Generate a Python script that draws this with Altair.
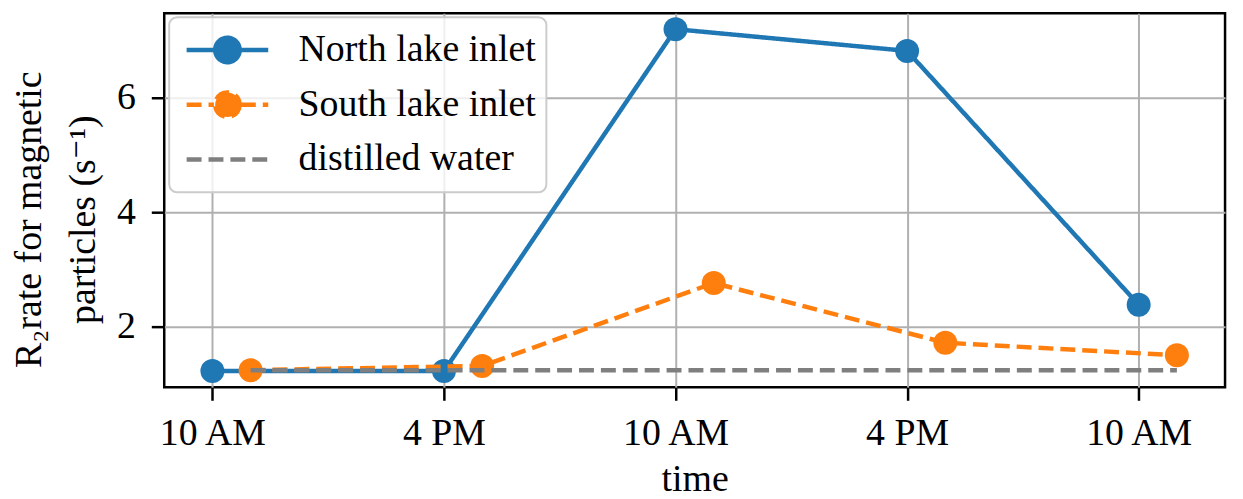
import json
import altair as alt
import pandas as pd

# ---- data ----
series_names = ["North lake inlet", "South lake inlet", "distilled water"]
series_colors = ["#1f77b4", "#ff7f0e", "#7f7f7f"]
tick_positions = [0, 1, 2, 3, 4]
tick_labels = ["10 AM", "4 PM", "10 AM", "4 PM", "10 AM"]
y_ticks = [2, 4, 6]

north_x = [0, 1, 2, 3, 4]
north_y = [1.22, 1.22, 7.2, 6.82, 2.38]
south_x = [0.165, 1.165, 2.165, 3.165, 4.165]
south_y = [1.235, 1.31, 2.76, 1.715, 1.495]
water_x = [0.165, 4.165]
water_y = [1.235, 1.235]

rows = []
for name, xs, ys in zip(series_names, [north_x, south_x, water_x], [north_y, south_y, water_y]):
    for xv, yv in zip(xs, ys):
        rows.append({"series": name, "x": xv, "y": yv})
df = pd.DataFrame(rows)

FONT = "Liberation Serif, Times New Roman, DejaVu Serif, serif"
W, H = 1066, 376
DASH = [15, 7]
SOLID = [1, 0]

label_expr = json.dumps(tick_labels) + "[datum.value]"

x_enc = alt.X(
    "x:Q",
    scale=alt.Scale(domain=[-0.208, 4.373], nice=False, zero=False),
    axis=alt.Axis(
        values=tick_positions,
        labelExpr=label_expr,
        title="time",
        titleX=W / 2,
        titleY=104,
        titleAlign="center",
        titleBaseline="alphabetic",
        labelPadding=14,
    ),
)
y_enc = alt.Y(
    "y:Q",
    scale=alt.Scale(domain=[0.935, 7.48], nice=False, zero=False),
    axis=alt.Axis(
        values=y_ticks,
        title=["R\u2082rate for magnetic", "particles (s\u207b\u00b9)"],
        titleX=-124,
        titleY=207,
        titleAngle=270,
        titleAlign="center",
        titleBaseline="alphabetic",
        titleLineHeight=54,
        labelPadding=16,
    ),
)

# legend symbols (unit coordinates, scaled by the legend symbol size)
circle_path = ("M -1 0 L -0.33 0 M 0.33 0 L 1 0 "
               "M 0.3 0 A 0.3 0.3 0 1 1 -0.3 0 A 0.3 0.3 0 1 1 0.3 0 Z")
line_path = "M -1 0 L 1 0"

legend = alt.Legend(
    title=None,
    orient="none",
    legendX=5,
    legendY=4,
    padding=10,
    clipHeight=46,
    rowPadding=9,
    symbolSize=6724,
    symbolOffset=5,
    symbolStrokeWidth=4.5,
    symbolOpacity=1,
    labelOffset=28,
    labelLimit=600,
    labelFont=FONT,
    labelFontSize=38,
    labelColor="black",
    fillColor="rgba(255,255,255,0.8)",
    strokeColor="#cccccc",
    cornerRadius=8,
)

color_enc = alt.Color(
    "series:N",
    scale=alt.Scale(domain=series_names, range=series_colors),
    legend=legend,
)
dash_enc = alt.StrokeDash(
    "series:N",
    scale=alt.Scale(domain=series_names, range=[SOLID, DASH, DASH]),
    legend=legend,
)
shape_enc = alt.Shape(
    "series:N",
    scale=alt.Scale(domain=series_names, range=[circle_path, circle_path, line_path]),
    legend=legend,
)

base = alt.Chart(df).encode(x=x_enc, y=y_enc, color=color_enc)


def only(name):
    return base.transform_filter(alt.datum.series == name)


LW = 4.5
north_line = only(series_names[0]).mark_line(strokeWidth=LW).encode(strokeDash=dash_enc)
north_pts = only(series_names[0]).mark_point(filled=True, size=580, opacity=1)
south_line = only(series_names[1]).mark_line(strokeWidth=LW).encode(strokeDash=dash_enc)
south_pts = only(series_names[1]).mark_point(filled=True, size=580, opacity=1)
water_line = only(series_names[2]).mark_line(strokeWidth=LW).encode(strokeDash=dash_enc)
# carries only the legend shapes; draws nothing
legend_shapes = (
    base.transform_filter("false")
    .mark_point(filled=True)
    .encode(shape=shape_enc)
)

chart = (
    alt.layer(north_line, north_pts, south_line, south_pts, water_line, legend_shapes)
    .properties(
        width=W,
        height=H,
        autosize=alt.AutoSizeParams(type="none"),
        padding={"left": 157, "top": 4, "right": 10, "bottom": 111},
        background="white",
    )
    .configure_view(stroke="black", strokeWidth=2.5)
    .configure_axis(
        labelFont=FONT,
        labelFontSize=38,
        labelColor="black",
        titleFont=FONT,
        titleFontSize=38,
        titleColor="black",
        titleFontWeight="normal",
        tickColor="black",
        tickWidth=2.5,
        tickSize=13,
        grid=True,
        gridColor="#b0b0b0",
        gridWidth=2,
        domain=False,
    )
    .configure_legend(strokeWidth=2, symbolFillColor="white")
)

chart.save("out.html", embed_options={"renderer": "svg", "actions": False})
